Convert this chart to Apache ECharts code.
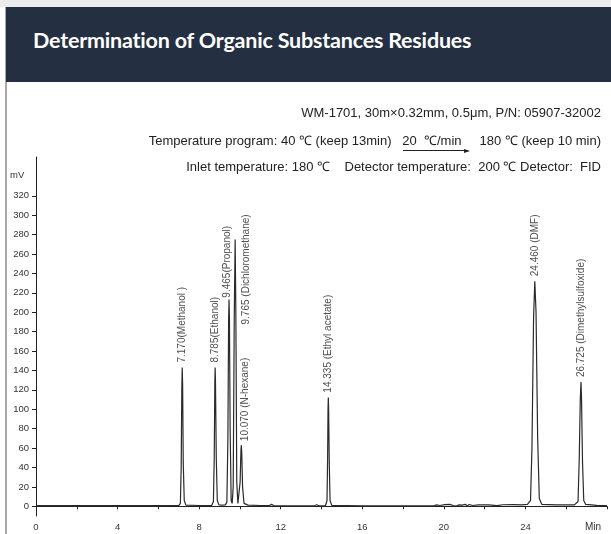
<!DOCTYPE html>
<html>
<head>
<meta charset="utf-8">
<script src="https://cdn.jsdelivr.net/npm/echarts@6/dist/echarts.min.js"></script>
<style>
  html, body { margin: 0; padding: 0; background: #fff; }
  .page { position: relative; width: 611px; height: 534px; overflow: hidden; background: #fff; }
  .topband { position: absolute; left: 0; top: 0; width: 611px; height: 7px; background: #ececec; }
  .frame { position: absolute; left: 5px; top: 7px; bottom: 0; border-left: 2px solid #a8a8a8; }
  .header { position: absolute; left: 6px; top: 7px; right: 0; height: 75px; background: #243041; }
  .header h1 { margin: 0; position: absolute; left: 27px; top: 20px; color: #fff;
    font-family: Lato, 'Noto Sans', sans-serif; font-weight: 700; font-size: 21.5px; letter-spacing: -0.2px; }
  .info { position: absolute; right: 10px; font-family: 'Liberation Sans', Arial, sans-serif;
    font-size: 13px; color: #222; white-space: pre; line-height: 16px; }
  .arrow { position: relative; }
  .arrow::before { content: ''; position: absolute; left: 1px; right: -6px; bottom: -3px; border-bottom: 1px solid #222; }
  .arrow::after { content: ''; position: absolute; right: -8px; bottom: -5px; border-left: 6px solid #222;
    border-top: 2.5px solid transparent; border-bottom: 2.5px solid transparent; }
  #chart { position: absolute; left: 0; top: 0; width: 611px; height: 534px; }
</style>
</head>
<body>
<div class="page">
  <div id="chart"></div>
  <div class="topband"></div>
  <div class="frame"></div>
  <div class="header"><h1>Determination of Organic Substances Residues</h1></div>
  <div class="info" style="top:105px">WM-1701, 30m×0.32mm, 0.5μm, P/N: 05907-32002</div>
  <div class="info" style="top:133px">Temperature program: 40 ℃ (keep 13min)   <span class="arrow">20  ℃/min</span>     180 ℃ (keep 10 min)</div>
  <div class="info" style="top:159px">Inlet temperature: 180 ℃    Detector temperature:  200 ℃ Detector:  FID</div>
</div>
<script>
// chromatogram trace (min, mV)
const signalTime = [
  0, 2, 4, 6, 7.0, 7.08, 7.12, 7.15, 7.17, 7.19, 7.22, 7.27, 7.35,
  8.0, 8.62, 8.70, 8.74, 8.77, 8.785, 8.80, 8.84, 8.89, 8.97,
  9.05, 9.12, 9.20, 9.28, 9.36, 9.41, 9.445, 9.465, 9.485, 9.52, 9.57,
  9.62, 9.67, 9.72, 9.765, 9.80, 9.845, 9.90,
  9.96, 10.01, 10.05, 10.07, 10.09, 10.13, 10.2, 10.4,
  11.0, 11.45, 11.55, 11.65, 12.5, 13.65, 13.77, 13.88,
  14.2, 14.27, 14.30, 14.32, 14.335, 14.35, 14.38, 14.42, 14.5,
  16, 18, 19.5, 19.65, 19.8, 20.05, 20.3, 20.45, 20.6, 20.75, 20.9, 21.05, 21.15, 21.25, 21.4,
  21.7, 22.2, 22.6, 22.9, 23.4, 23.8, 24.1,
  24.25, 24.32, 24.40, 24.46, 24.52, 24.60, 24.68, 24.80,
  25.5, 26.4, 26.58, 26.64, 26.69, 26.725, 26.75, 26.80, 26.86, 26.95, 27.5, 28
];
const signalMv = [
  0.6, 0.6, 0.6, 0.7, 0.8, 3, 40, 120, 143, 125, 45, 6, 1.2,
  0.8, 1, 5, 50, 128, 143, 130, 50, 6, 1.5,
  2.5, 1.2, 2.5, 1.5, 4, 70, 190, 213, 195, 80, 6,
  3, 20, 190, 275, 200, 25, 3,
  2.5, 25, 58, 63, 55, 20, 3, 1.2,
  0.8, 0.8, 2, 0.8, 0.5, 0.5, 1.6, 0.5,
  0.8, 6, 50, 100, 112, 100, 45, 6, 1,
  0.5, 0.5, 0.5, 1.5, 0.8, 1.8, 2, 0.8, 0.3, 1.5, 1.2, 2, 0.6, 1.8, 0.8,
  1.4, 1.4, 0.6, 1.6, 1.8, 1.4, 2,
  6, 60, 195, 232, 200, 70, 8, 2,
  1.5, 1.5, 5, 50, 110, 128, 112, 45, 6, 2, 1, 0.8
];

const peakNames = ['7.170(Methanol )', '8.785(Ethanol)', '9.465(Propanol)', '9.765 (Dichloromethane)',
  '10.070 (N-hexane)', '14.335 (Ethyl acetate)', '24.460 (DMF)', '26.725 (Dimethylsulfoxide)'];
const peakTimes = [7.170, 8.785, 9.465, 9.765, 10.070, 14.335, 24.460, 26.725];
const peakHeights = [143, 143, 213, 275, 63, 112, 232, 128];

const xTicks = [0, 4, 8, 12, 16, 20, 24];
const yTicks = [0, 20, 40, 60, 80, 100, 120, 140, 160, 180, 200, 220, 240, 260, 280, 300, 320];

// label nudges (local coords of the rotated text: [up, right])
const labelOffsets = { 2: [-3, -2], 3: [-90, 11], 4: [-1, 4] };

const chart = echarts.init(document.getElementById('chart'));
const axisText = { color: '#333', fontSize: 9.5, fontFamily: 'Liberation Sans, Arial, sans-serif' };

chart.setOption({
  animation: false,
  grid: { left: 36, right: 4, top: 157, bottom: 18 },
  xAxis: {
    type: 'value', min: 0, max: 28, interval: 2,
    axisLine: { lineStyle: { color: '#222', width: 1 } },
    axisTick: { length: 3, lineStyle: { color: '#222' } },
    axisLabel: { ...axisText, margin: 6, customValues: xTicks },
    splitLine: { show: false }
  },
  yAxis: {
    type: 'value', min: -10, max: 360, interval: 10,
    axisLine: { show: true, lineStyle: { color: '#222', width: 1 } },
    axisTick: { show: true, length: 4, lineStyle: { color: '#222' }, customValues: yTicks },
    axisLabel: { ...axisText, margin: 7, customValues: yTicks },
    splitLine: { show: false }
  },
  graphic: [
    { type: 'text', left: 10, top: 170, style: { text: 'mV', fill: '#333', fontSize: 9.5, fontFamily: 'Liberation Sans, Arial, sans-serif' } },
    { type: 'text', left: 585, top: 522, style: { text: 'Min', fill: '#333', fontSize: 10, fontFamily: 'Liberation Sans, Arial, sans-serif' } }
  ],
  series: [
    {
      type: 'line',
      data: signalTime.map((t, i) => [t, signalMv[i]]),
      showSymbol: false,
      lineStyle: { color: '#2a2a2a', width: 1.2 },
      silent: true
    },
    {
      type: 'scatter',
      symbolSize: 0,
      silent: true,
      data: peakTimes.map((t, i) => ({
        value: [t, peakHeights[i]],
        name: peakNames[i],
        label: labelOffsets[i] ? { offset: labelOffsets[i] } : undefined
      })),
      label: {
        show: true,
        position: 'top',
        distance: 5,
        rotate: 90,
        align: 'left',
        verticalAlign: 'middle',
        formatter: p => p.name,
        color: '#222',
        fontSize: 10,
        fontFamily: 'Liberation Sans, Arial, sans-serif'
      }
    }
  ]
});
</script>
</body>
</html>
